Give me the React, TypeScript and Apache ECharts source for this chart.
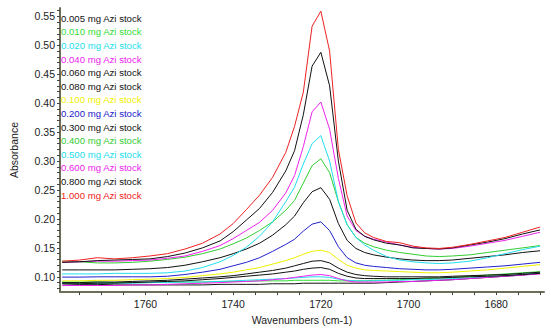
import React, { useEffect, useRef } from "react";
import * as echarts from "echarts";

const WAVENUMBERS = [1779, 1775, 1771, 1767, 1763, 1759, 1755, 1751, 1747, 1743, 1740, 1737, 1734, 1731, 1728, 1726, 1724, 1722, 1720, 1718, 1716, 1714, 1712, 1710, 1708, 1705, 1702, 1699, 1696, 1693, 1690, 1686, 1682, 1678, 1674, 1670];

const SERIES_NAMES = [
  "0.005 mg Azi stock", "0.010 mg Azi stock", "0.020 mg Azi stock", "0.040 mg Azi stock",
  "0.060 mg Azi stock", "0.080 mg Azi stock", "0.100 mg Azi stock", "0.200 mg Azi stock",
  "0.300 mg Azi stock", "0.400 mg Azi stock", "0.500 mg Azi stock", "0.600 mg Azi stock",
  "0.800 mg Azi stock", "1.000 mg Azi stock",
];

const s0005 = [0.088, 0.087, 0.087, 0.086, 0.086, 0.086, 0.086, 0.086, 0.086, 0.087, 0.087, 0.087, 0.087, 0.088, 0.088, 0.088, 0.089, 0.089, 0.089, 0.089, 0.089, 0.089, 0.089, 0.089, 0.089, 0.090, 0.091, 0.092, 0.093, 0.094, 0.095, 0.097, 0.099, 0.101, 0.103, 0.106];
const s0010 = [0.091, 0.091, 0.091, 0.090, 0.090, 0.090, 0.091, 0.091, 0.091, 0.092, 0.092, 0.092, 0.093, 0.093, 0.093, 0.094, 0.094, 0.094, 0.094, 0.094, 0.093, 0.093, 0.093, 0.093, 0.094, 0.094, 0.095, 0.096, 0.097, 0.098, 0.099, 0.101, 0.103, 0.105, 0.107, 0.109];
const s0020 = [0.089, 0.089, 0.089, 0.089, 0.089, 0.090, 0.090, 0.091, 0.091, 0.092, 0.093, 0.094, 0.095, 0.096, 0.097, 0.098, 0.099, 0.100, 0.100, 0.099, 0.096, 0.094, 0.093, 0.093, 0.093, 0.094, 0.094, 0.095, 0.095, 0.096, 0.097, 0.098, 0.100, 0.102, 0.104, 0.107];
const s0040 = [0.085, 0.085, 0.085, 0.085, 0.086, 0.086, 0.087, 0.088, 0.089, 0.090, 0.091, 0.092, 0.093, 0.095, 0.097, 0.099, 0.101, 0.103, 0.104, 0.102, 0.097, 0.093, 0.091, 0.091, 0.091, 0.091, 0.092, 0.092, 0.093, 0.094, 0.095, 0.097, 0.099, 0.101, 0.103, 0.105];
const s0060 = [0.088, 0.088, 0.089, 0.089, 0.090, 0.091, 0.092, 0.093, 0.095, 0.097, 0.099, 0.101, 0.103, 0.105, 0.108, 0.110, 0.113, 0.115, 0.116, 0.113, 0.106, 0.101, 0.098, 0.097, 0.097, 0.097, 0.097, 0.097, 0.098, 0.098, 0.099, 0.100, 0.101, 0.102, 0.104, 0.106];
const s0080 = [0.090, 0.090, 0.091, 0.091, 0.092, 0.093, 0.094, 0.096, 0.098, 0.100, 0.102, 0.105, 0.108, 0.111, 0.115, 0.119, 0.123, 0.127, 0.128, 0.124, 0.115, 0.108, 0.104, 0.102, 0.101, 0.100, 0.100, 0.100, 0.100, 0.100, 0.101, 0.102, 0.103, 0.104, 0.106, 0.108];
const s0100 = [0.093, 0.093, 0.094, 0.094, 0.095, 0.096, 0.097, 0.099, 0.102, 0.105, 0.108, 0.112, 0.116, 0.122, 0.128, 0.133, 0.139, 0.144, 0.146, 0.142, 0.130, 0.120, 0.115, 0.112, 0.111, 0.110, 0.109, 0.108, 0.107, 0.107, 0.108, 0.110, 0.112, 0.115, 0.118, 0.121];
const s0200 = [0.0995, 0.0995, 0.100, 0.100, 0.100, 0.100, 0.101, 0.104, 0.108, 0.113, 0.119, 0.125, 0.133, 0.144, 0.156, 0.165, 0.179, 0.191, 0.195, 0.180, 0.152, 0.133, 0.124, 0.120, 0.118, 0.116, 0.114, 0.113, 0.112, 0.112, 0.113, 0.115, 0.117, 0.119, 0.122, 0.125];
const s0300 = [0.112, 0.112, 0.112, 0.112, 0.113, 0.114, 0.116, 0.120, 0.126, 0.133, 0.140, 0.148, 0.158, 0.172, 0.190, 0.205, 0.228, 0.247, 0.254, 0.234, 0.192, 0.163, 0.149, 0.142, 0.138, 0.134, 0.131, 0.129, 0.128, 0.128, 0.129, 0.132, 0.135, 0.138, 0.142, 0.145];
const s0400 = [0.127, 0.126, 0.124, 0.124, 0.125, 0.127, 0.130, 0.134, 0.140, 0.148, 0.157, 0.167, 0.180, 0.195, 0.215, 0.232, 0.262, 0.292, 0.304, 0.280, 0.230, 0.190, 0.168, 0.158, 0.152, 0.146, 0.142, 0.139, 0.136, 0.135, 0.136, 0.138, 0.142, 0.146, 0.150, 0.154];
const s0500 = [0.105, 0.105, 0.105, 0.106, 0.106, 0.106, 0.107, 0.110, 0.116, 0.126, 0.137, 0.151, 0.170, 0.195, 0.230, 0.255, 0.295, 0.330, 0.344, 0.300, 0.230, 0.190, 0.168, 0.155, 0.146, 0.135, 0.129, 0.126, 0.124, 0.123, 0.124, 0.127, 0.133, 0.140, 0.147, 0.153];
const s0600 = [0.125, 0.126, 0.127, 0.127, 0.128, 0.129, 0.132, 0.136, 0.144, 0.154, 0.166, 0.180, 0.194, 0.215, 0.245, 0.275, 0.325, 0.385, 0.402, 0.355, 0.270, 0.205, 0.180, 0.170, 0.165, 0.160, 0.155, 0.151, 0.149, 0.148, 0.149, 0.153, 0.158, 0.163, 0.170, 0.177];
const s0800 = [0.125, 0.126, 0.128, 0.129, 0.130, 0.131, 0.135, 0.141, 0.150, 0.162, 0.178, 0.198, 0.218, 0.246, 0.283, 0.318, 0.380, 0.464, 0.488, 0.430, 0.300, 0.215, 0.182, 0.170, 0.164, 0.158, 0.155, 0.150, 0.149, 0.148, 0.150, 0.155, 0.160, 0.166, 0.174, 0.181];
const s1000 = [0.127, 0.129, 0.133, 0.131, 0.133, 0.136, 0.140, 0.148, 0.158, 0.174, 0.192, 0.216, 0.241, 0.272, 0.315, 0.360, 0.419, 0.533, 0.559, 0.490, 0.320, 0.240, 0.193, 0.176, 0.168, 0.161, 0.159, 0.153, 0.150, 0.149, 0.151, 0.156, 0.162, 0.168, 0.177, 0.186];

const SERIES_VALUES = [s0005, s0010, s0020, s0040, s0060, s0080, s0100, s0200, s0300, s0400, s0500, s0600, s0800, s1000];

const X_TICKS = [1670, 1675, 1680, 1685, 1690, 1695, 1700, 1705, 1710, 1715, 1720, 1725, 1730, 1735, 1740, 1745, 1750, 1755, 1760, 1765, 1770, 1775];
const X_LABELS = [1680, 1700, 1720, 1740, 1760];
const Y_TICKS = [0.08, 0.09, 0.10, 0.11, 0.12, 0.13, 0.14, 0.15, 0.16, 0.17, 0.18, 0.19, 0.20, 0.21, 0.22, 0.23, 0.24, 0.25, 0.26, 0.27, 0.28, 0.29, 0.30, 0.31, 0.32, 0.33, 0.34, 0.35, 0.36, 0.37, 0.38, 0.39, 0.40, 0.41, 0.42, 0.43, 0.44, 0.45, 0.46, 0.47, 0.48, 0.49, 0.50, 0.51, 0.52, 0.53, 0.54, 0.55, 0.56];
const Y_LABELS = [0.10, 0.15, 0.20, 0.25, 0.30, 0.35, 0.40, 0.45, 0.50, 0.55];

const COLORS = ["#111111", "#33dd33", "#22ddee", "#ee22ee", "#111111", "#111111", "#f0f000", "#2222cc", "#111111", "#33cc33", "#22ddee", "#ee22ee", "#111111", "#ee2222"];

const FONT = "Liberation Sans, Arial, sans-serif";

export default function App() {
  const ref = useRef<HTMLDivElement>(null);
  useEffect(() => {
    if (!ref.current) return;
    const chart = echarts.init(ref.current, undefined, { renderer: "svg" });
    chart.setOption({
      animation: false,
      backgroundColor: "#ffffff",
      textStyle: { fontFamily: FONT },
      grid: { left: 57, right: 7, top: 8, bottom: 34 },
      legend: {
        orient: "vertical",
        left: 56,
        top: 12.3,
        padding: 0,
        icon: "none",
        itemWidth: 0,
        itemHeight: 12,
        itemGap: 1.6,
        selectedMode: false,
        data: SERIES_NAMES.map((n, i) => ({ name: n, textStyle: { color: COLORS[i] } })),
        textStyle: { fontSize: 9.6, fontFamily: FONT, lineHeight: 12 },
      },
      xAxis: {
        type: "value",
        inverse: true,
        min: 1669.1,
        max: 1779.5,
        name: "Wavenumbers (cm-1)",
        nameLocation: "middle",
        nameGap: 20,
        nameTextStyle: { fontSize: 10.5, color: "#222", fontFamily: FONT },
        axisLine: { show: true, lineStyle: { color: "#6e6e58", width: 2 } },
        axisTick: { show: true, length: 3, customValues: X_TICKS, lineStyle: { color: "#444" } },
        axisLabel: { customValues: X_LABELS, fontSize: 10.5, color: "#222", margin: 6, fontFamily: FONT, formatter: (v: number) => String(v) },
        splitLine: { show: false },
      },
      yAxis: {
        type: "value",
        min: 0.0736,
        max: 0.5645,
        name: "Absorbance",
        nameLocation: "middle",
        nameGap: 41,
        nameTextStyle: { fontSize: 10.5, color: "#222", fontFamily: FONT },
        axisLine: { show: true, lineStyle: { color: "#6e6e58", width: 2 } },
        axisTick: { show: true, length: 3, customValues: Y_TICKS, lineStyle: { color: "#444" } },
        axisLabel: { customValues: Y_LABELS, fontSize: 10.5, color: "#222", margin: 5, fontFamily: FONT, formatter: (v: number) => v.toFixed(2) },
        splitLine: { show: false },
      },
      series: SERIES_NAMES.map((n, i) => ({
        name: n,
        type: "line",
        showSymbol: false,
        symbol: "none",
        lineStyle: { width: 1, color: COLORS[i] },
        itemStyle: { color: COLORS[i] },
        data: WAVENUMBERS.map((w, j) => [w, SERIES_VALUES[i][j]]),
      })),
    });
    return () => chart.dispose();
  }, []);
  return <div ref={ref} style={{ width: 551, height: 330, position: "absolute", left: 0, top: 0 }} />;
}
